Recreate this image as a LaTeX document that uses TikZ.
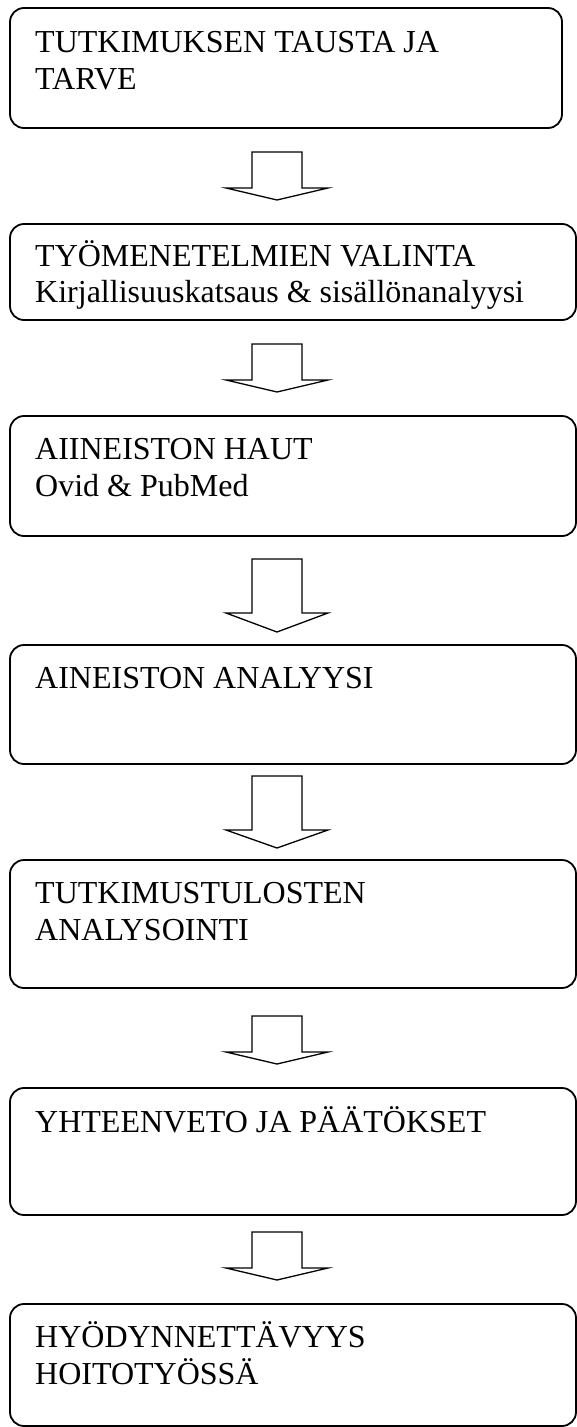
\documentclass[tikz,border=0pt]{standalone}
\usepackage{fontspec}
\setmainfont{Liberation Serif}
\begin{document}
\begin{tikzpicture}[x=1pt,y=-1pt,
  box/.style={draw, line width=1.8pt, rounded corners=14pt, inner sep=0pt, outer sep=0pt, anchor=north west},
  % the base anchor of a multi-line label sits on its last line
  lbl/.style={anchor=base west, inner sep=0pt, align=left, font=\fontsize{32}{37}\selectfont},
  arrowline/.style={draw, line width=1.3pt, line join=miter, fill=white},
  pics/downarrow/.style args={#1/#2}{code={%
    \path[arrowline] (-25,0) -- (25,0) -- (25,#1) -- (51,#1) -- (0,#1+#2) -- (-51,#1) -- (-25,#1) -- cycle;}}
]
\useasboundingbox (0,0) rectangle (577,1427);

% process steps
\node[box, minimum width=552pt, minimum height=120pt] (b1) at (10,8) {};
\node[box, minimum width=566pt, minimum height=96pt]  (b2) at (10,224) {};
\node[box, minimum width=566pt, minimum height=120pt] (b3) at (10,416) {};
\node[box, minimum width=566pt, minimum height=119pt] (b4) at (10,645) {};
\node[box, minimum width=566pt, minimum height=128pt] (b5) at (10,860) {};
\node[box, minimum width=566pt, minimum height=127pt] (b6) at (10,1088) {};
\node[box, minimum width=566pt, minimum height=122pt] (b7) at (10,1304) {};

% step texts
\node[lbl] (t1) at ([shift={(25,81)}]b1.north west) {TUTKIMUKSEN TAUSTA JA\\TARVE};
\node[lbl] (t2) at ([shift={(25,78)}]b2.north west) {TYÖMENETELMIEN VALINTA\\[-1pt]Kirjallisuuskatsaus \& sisällönanalyysi};
\node[lbl] (t3) at ([shift={(25,80)}]b3.north west) {AIINEISTON HAUT\\Ovid \& PubMed};
\node[lbl] (t4) at ([shift={(25,43)}]b4.north west) {AINEISTON ANALYYSI};
\node[lbl] (t5) at ([shift={(25,80)}]b5.north west) {TUTKIMUSTULOSTEN\\ANALYSOINTI};
\node[lbl] (t6) at ([shift={(25,44)}]b6.north west) {YHTEENVETO JA PÄÄTÖKSET};
\node[lbl] (t7) at ([shift={(25,80)}]b7.north west) {HYÖDYNNETTÄVYYS\\HOITOTYÖSSÄ};

% block arrows between the steps
\pic (a1) at (277,152)  {downarrow=36/12};
\pic (a2) at (277,344)  {downarrow=36/12};
\pic (a3) at (277,559)  {downarrow=54/19};
\pic (a4) at (277,776)  {downarrow=54/18};
\pic (a5) at (277,1016) {downarrow=36/12};
\pic (a6) at (277,1232) {downarrow=36/12};
\end{tikzpicture}
\end{document}
